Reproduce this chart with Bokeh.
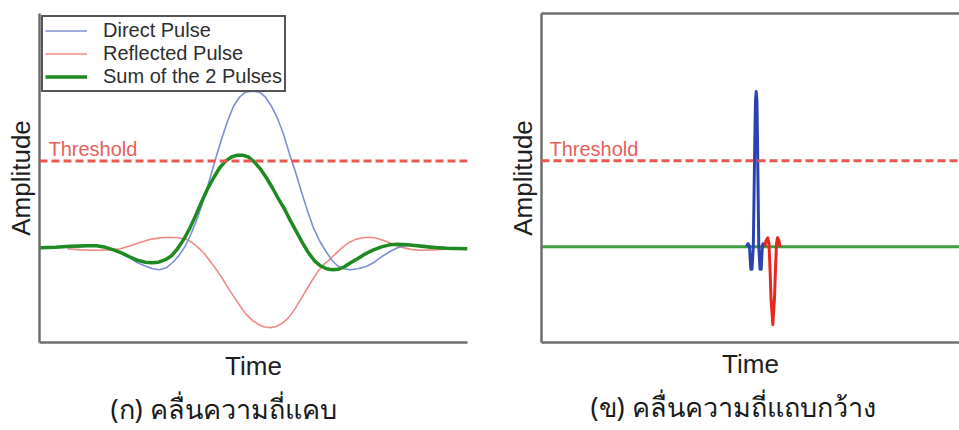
from bokeh.plotting import figure
from bokeh.layouts import row
from bokeh.models import Span, Label, Title, FixedTicker, LinearAxis, Legend, LegendItem
from bokeh.embed import file_html
from bokeh.resources import INLINE

# ---- narrowband pulses (time in arbitrary units, amplitude normalised to the direct peak)
nb_direct_t = [1.40, 2.05, 2.70, 3.30, 3.70, 4.10, 4.50, 4.90, 5.35, 5.65, 6.00, 6.35, 6.70,
               7.00, 7.30, 7.60, 7.90, 8.20, 8.50, 8.80, 9.10, 9.40, 9.70, 10.00, 10.30,
               10.65, 11.00, 11.30, 11.60, 11.90, 12.20, 12.50, 12.80, 13.10, 13.40, 13.70,
               14.00, 14.30, 14.60, 14.90, 15.20, 15.55, 15.90, 16.30, 16.70, 17.10, 17.50,
               17.90, 18.30, 18.80, 19.30, 19.90, 20.55]
nb_direct_a = [0.000, 0.006, 0.015, 0.006, -0.013, -0.038, -0.064, -0.096, -0.119, -0.134,
               -0.140, -0.127, -0.089, -0.045, 0.013, 0.096, 0.191, 0.306, 0.433, 0.567,
               0.694, 0.809, 0.904, 0.962, 0.994, 1.000, 0.994, 0.962, 0.904, 0.828, 0.726,
               0.599, 0.484, 0.357, 0.236, 0.127, 0.045, -0.019, -0.076, -0.115, -0.134,
               -0.140, -0.134, -0.121, -0.096, -0.057, -0.025, 0.000, 0.013, 0.016, 0.014,
               0.006, 0.000]

nb_reflected_t = [1.40, 2.05, 2.80, 3.55, 4.05, 4.55, 5.05, 5.55, 6.05, 6.50, 6.95, 7.35,
                  7.65, 7.95, 8.25, 8.55, 8.85, 9.15, 9.45, 9.75, 10.05, 10.35, 10.65, 10.95,
                  11.25, 11.55, 11.85, 12.15, 12.45, 12.75, 13.05, 13.35, 13.65, 13.95,
                  14.25, 14.55, 14.85, 15.15, 15.45, 15.80, 16.15, 16.50, 16.85, 17.25,
                  17.65, 18.05, 18.55, 19.05, 19.80, 20.55]
nb_reflected_a = [-0.006, -0.013, -0.016, -0.013, -0.006, 0.013, 0.035, 0.054, 0.064, 0.067,
                  0.064, 0.054, 0.032, 0.000, -0.038, -0.089, -0.140, -0.197, -0.261, -0.318,
                  -0.376, -0.427, -0.465, -0.490, -0.506, -0.510, -0.503, -0.481, -0.446,
                  -0.395, -0.331, -0.268, -0.204, -0.146, -0.102, -0.070, -0.032, 0.003,
                  0.032, 0.054, 0.064, 0.067, 0.061, 0.045, 0.025, 0.006, -0.010, -0.016,
                  -0.013, -0.006]

nb_sum_t = [0.00, 0.80, 1.55, 2.30, 2.85, 3.30, 3.70, 4.10, 4.50, 4.90, 5.30, 5.60, 5.95,
            6.30, 6.60, 6.90, 7.20, 7.50, 7.80, 8.10, 8.40, 8.70, 9.00, 9.30, 9.60, 9.90,
            10.15, 10.45, 10.75, 11.05, 11.35, 11.65, 11.95, 12.25, 12.55, 12.85, 13.15,
            13.45, 13.75, 14.05, 14.35, 14.65, 14.95, 15.25, 15.55, 15.90, 16.30, 16.70,
            17.10, 17.50, 17.90, 18.40, 18.90, 19.55, 20.30, 21.40]
nb_sum_a = [0.000, 0.003, 0.010, 0.013, 0.013, 0.003, -0.013, -0.032, -0.057, -0.080,
            -0.092, -0.096, -0.092, -0.076, -0.051, -0.006, 0.051, 0.121, 0.204, 0.293,
            0.376, 0.446, 0.510, 0.554, 0.580, 0.592, 0.592, 0.580, 0.548, 0.503, 0.446,
            0.382, 0.312, 0.248, 0.172, 0.102, 0.032, -0.032, -0.083, -0.115, -0.134,
            -0.140, -0.137, -0.121, -0.096, -0.070, -0.038, -0.013, 0.006, 0.019, 0.022,
            0.019, 0.013, 0.003, -0.003, -0.006]

# ---- wideband pulses (same units)
wb_direct_t = [10.25, 10.325, 10.40, 10.465, 10.525, 10.59, 10.625, 10.665, 10.70, 10.735,
               10.77, 10.80, 10.835, 10.865, 10.925, 10.985, 11.04, 11.08, 11.15]
wb_direct_a = [0.000, 0.019, 0.000, -0.146, -0.146, 0.000, 0.306, 0.688, 0.943, 1.000,
               0.943, 0.688, 0.306, 0.000, -0.146, -0.146, 0.000, 0.019, 0.000]

wb_reflected_t = [11.165, 11.225, 11.315, 11.375, 11.425, 11.475, 11.565, 11.65, 11.70,
                  11.75, 11.80, 11.875, 11.925]
wb_reflected_a = [0.000, 0.038, 0.057, 0.019, -0.140, -0.331, -0.503, -0.331, -0.140,
                  0.019, 0.057, 0.038, 0.000]

wb_sum_t = [0.0, 20.9]
wb_sum_a = [0.0, 0.0]

threshold = 0.554
series_labels = ["Direct Pulse", "Reflected Pulse", "Sum of the 2 Pulses"]
captions = ["(ก) คลื่นความถี่แคบ", "(ข) คลื่นความถี่แถบกว้าง"]

LATIN = "Liberation Sans"
THAI = "Noto Sans"
SPINE = "#6e6e6e"
TEXT = "#1e1e1e"
THRESH = "#ea5650"


def style_axis(ax, label):
    ax.ticker = FixedTicker(ticks=[])
    ax.major_tick_line_color = None
    ax.minor_tick_line_color = None
    ax.major_tick_out = 0
    ax.major_tick_in = 0
    ax.major_label_standoff = 0
    ax.major_label_text_font_size = "0px"
    ax.axis_line_color = SPINE
    ax.axis_line_width = 2.5
    ax.axis_label = label
    ax.axis_label_text_font = LATIN
    ax.axis_label_text_font_size = "26px"
    ax.axis_label_text_font_style = "normal"
    ax.axis_label_text_color = TEXT


def make_panel(width, x_end, y_range, borders, caption, cap_offset, time_standoff):
    p = figure(width=width, height=430, x_range=(0, x_end), y_range=y_range,
               output_backend="svg", toolbar_location=None,
               min_border_left=borders[0], min_border_right=borders[1],
               min_border_top=borders[2], min_border_bottom=borders[3])
    p.outline_line_color = None
    p.xgrid.visible = False
    p.ygrid.visible = False
    style_axis(p.xaxis[0], "Time")
    style_axis(p.yaxis[0], "Amplitude")
    p.xaxis[0].axis_label_standoff = time_standoff
    p.yaxis[0].axis_label_standoff = 4
    p.add_layout(Title(text=caption, align="left", offset=cap_offset, standoff=8,
                       text_font=THAI, text_font_size="27px",
                       text_font_style="normal", text_color="#1a1a1a"), "below")
    return p


def threshold_marks(p, x_label):
    p.add_layout(Span(location=threshold, dimension="width", line_color=THRESH,
                      line_width=3, line_dash="8 4"))
    p.add_layout(Label(x=x_label, y=threshold, y_offset=1, text="Threshold",
                       text_font=LATIN, text_font_size="20px", text_color="#e8605a",
                       text_baseline="bottom"))


# ---- left: narrowband
p1 = make_panel(480, 21.4, (-0.605, 1.497), (39, 13, 13, 87), captions[0], 71, 8)
r_ref = p1.line(nb_reflected_t, nb_reflected_a, line_color="#ef8a84", line_width=1.6)
r_dir = p1.line(nb_direct_t, nb_direct_a, line_color="#7d8fd4", line_width=1.6)
r_sum = p1.line(nb_sum_t, nb_sum_a, line_color="#1f8a22", line_width=3.5)
threshold_marks(p1, 0.45)
legend = Legend(items=[LegendItem(label=series_labels[0], renderers=[r_dir]),
                       LegendItem(label=series_labels[1], renderers=[r_ref]),
                       LegendItem(label=series_labels[2], renderers=[r_sum])],
                location="top_left", padding=2, spacing=0, margin=2,
                glyph_width=42, glyph_height=21, label_height=21, label_standoff=16,
                label_text_font=LATIN, label_text_font_size="20px",
                label_text_color="#2e2e2e", border_line_color="#555555",
                border_line_alpha=1.0, border_line_width=2,
                background_fill_color="white", background_fill_alpha=1.0)
p1.add_layout(legend)

# ---- right: wideband
p2 = make_panel(479, 20.9, (-0.618, 1.503), (61, 0, 12, 85), captions[1], 49, 6)
top_axis = LinearAxis()
style_axis(top_axis, "")
p2.add_layout(top_axis, "above")
p2.line(wb_sum_t, wb_sum_a, line_color="#3f9f3f", line_width=3)
p2.line(wb_direct_t, wb_direct_a, line_color="#2c42b2", line_width=3, line_join="round")
p2.line(wb_reflected_t, wb_reflected_a, line_color="#e8281e", line_width=3, line_join="round")
threshold_marks(p2, 0.4)

layout = row(p1, p2)
open("out.html", "w").write(file_html(layout, INLINE))
